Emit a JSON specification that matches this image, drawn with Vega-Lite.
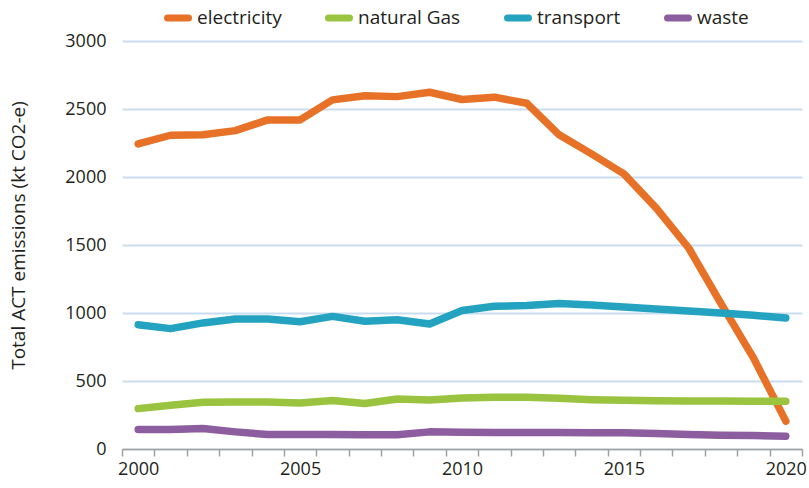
{
  "$schema": "https://vega.github.io/schema/vega-lite/v6.json",
  "autosize": {"type": "none"},
  "padding": {"left": 122, "top": 41, "right": 7, "bottom": 39},
  "width": 680,
  "height": 408,
  "background": "white",
  "config": {"view": {"stroke": null}},
  "data": {"values": [
    {"year": 2000, "series": "electricity", "value": 2243},
    {"year": 2001, "series": "electricity", "value": 2307},
    {"year": 2002, "series": "electricity", "value": 2310},
    {"year": 2003, "series": "electricity", "value": 2341},
    {"year": 2004, "series": "electricity", "value": 2420},
    {"year": 2005, "series": "electricity", "value": 2420},
    {"year": 2006, "series": "electricity", "value": 2567},
    {"year": 2007, "series": "electricity", "value": 2598},
    {"year": 2008, "series": "electricity", "value": 2591},
    {"year": 2009, "series": "electricity", "value": 2623},
    {"year": 2010, "series": "electricity", "value": 2570},
    {"year": 2011, "series": "electricity", "value": 2587},
    {"year": 2012, "series": "electricity", "value": 2542},
    {"year": 2013, "series": "electricity", "value": 2310},
    {"year": 2014, "series": "electricity", "value": 2170},
    {"year": 2015, "series": "electricity", "value": 2023},
    {"year": 2016, "series": "electricity", "value": 1771},
    {"year": 2017, "series": "electricity", "value": 1478},
    {"year": 2018, "series": "electricity", "value": 1069},
    {"year": 2019, "series": "electricity", "value": 670},
    {"year": 2020, "series": "electricity", "value": 205},
    {"year": 2000, "series": "natural Gas", "value": 297},
    {"year": 2001, "series": "natural Gas", "value": 322},
    {"year": 2002, "series": "natural Gas", "value": 344},
    {"year": 2003, "series": "natural Gas", "value": 346},
    {"year": 2004, "series": "natural Gas", "value": 346},
    {"year": 2005, "series": "natural Gas", "value": 339},
    {"year": 2006, "series": "natural Gas", "value": 356},
    {"year": 2007, "series": "natural Gas", "value": 334},
    {"year": 2008, "series": "natural Gas", "value": 368},
    {"year": 2009, "series": "natural Gas", "value": 361},
    {"year": 2010, "series": "natural Gas", "value": 375},
    {"year": 2011, "series": "natural Gas", "value": 380},
    {"year": 2012, "series": "natural Gas", "value": 381},
    {"year": 2013, "series": "natural Gas", "value": 373},
    {"year": 2014, "series": "natural Gas", "value": 363},
    {"year": 2015, "series": "natural Gas", "value": 358},
    {"year": 2016, "series": "natural Gas", "value": 354},
    {"year": 2017, "series": "natural Gas", "value": 353},
    {"year": 2018, "series": "natural Gas", "value": 353},
    {"year": 2019, "series": "natural Gas", "value": 352},
    {"year": 2020, "series": "natural Gas", "value": 351},
    {"year": 2000, "series": "transport", "value": 914},
    {"year": 2001, "series": "transport", "value": 885},
    {"year": 2002, "series": "transport", "value": 927},
    {"year": 2003, "series": "transport", "value": 956},
    {"year": 2004, "series": "transport", "value": 956},
    {"year": 2005, "series": "transport", "value": 936},
    {"year": 2006, "series": "transport", "value": 975},
    {"year": 2007, "series": "transport", "value": 939},
    {"year": 2008, "series": "transport", "value": 951},
    {"year": 2009, "series": "transport", "value": 919},
    {"year": 2010, "series": "transport", "value": 1018},
    {"year": 2011, "series": "transport", "value": 1049},
    {"year": 2012, "series": "transport", "value": 1055},
    {"year": 2013, "series": "transport", "value": 1069},
    {"year": 2014, "series": "transport", "value": 1059},
    {"year": 2015, "series": "transport", "value": 1044},
    {"year": 2016, "series": "transport", "value": 1030},
    {"year": 2017, "series": "transport", "value": 1015},
    {"year": 2018, "series": "transport", "value": 1000},
    {"year": 2019, "series": "transport", "value": 983},
    {"year": 2020, "series": "transport", "value": 963},
    {"year": 2000, "series": "waste", "value": 143},
    {"year": 2001, "series": "waste", "value": 143},
    {"year": 2002, "series": "waste", "value": 150},
    {"year": 2003, "series": "waste", "value": 126},
    {"year": 2004, "series": "waste", "value": 106},
    {"year": 2005, "series": "waste", "value": 106},
    {"year": 2006, "series": "waste", "value": 106},
    {"year": 2007, "series": "waste", "value": 105},
    {"year": 2008, "series": "waste", "value": 105},
    {"year": 2009, "series": "waste", "value": 126},
    {"year": 2010, "series": "waste", "value": 124},
    {"year": 2011, "series": "waste", "value": 122},
    {"year": 2012, "series": "waste", "value": 122},
    {"year": 2013, "series": "waste", "value": 122},
    {"year": 2014, "series": "waste", "value": 120},
    {"year": 2015, "series": "waste", "value": 119},
    {"year": 2016, "series": "waste", "value": 114},
    {"year": 2017, "series": "waste", "value": 106},
    {"year": 2018, "series": "waste", "value": 102},
    {"year": 2019, "series": "waste", "value": 99},
    {"year": 2020, "series": "waste", "value": 94}
  ]},
  "mark": {"type": "line", "strokeWidth": 7.5, "strokeCap": "round", "strokeJoin": "round"},
  "encoding": {
    "x": {
      "field": "year",
      "type": "ordinal",
      "bandPosition": 0.5,
      "scale": {"type": "band", "paddingInner": 0, "paddingOuter": 0},
      "axis": {
        "title": null,
        "labelAngle": 0,
        "labelExpr": "datum.value % 5 === 0 ? datum.label : ''",
        "tickBand": "extent",
        "domainColor": "#a0a0a0",
        "domainWidth": 1.5,
        "tickColor": "#a0a0a0",
        "tickWidth": 1.5,
        "tickSize": 7,
        "labelPadding": 4,
        "labelFont": "Open Sans",
        "labelFontSize": 18,
        "labelColor": "#231f20",
        "labelOverlap": false,
        "grid": false
      }
    },
    "y": {
      "field": "value",
      "type": "quantitative",
      "scale": {"domain": [0, 3000], "nice": false},
      "axis": {
        "title": "Total ACT emissions (kt CO2-e)",
        "values": [0, 500, 1000, 1500, 2000, 2500, 3000],
        "format": "d",
        "domain": false,
        "ticks": false,
        "tickSize": 0,
        "labelPadding": 16,
        "labelFont": "Open Sans",
        "labelFontSize": 18,
        "labelColor": "#231f20",
        "gridColor": "#c9ddf0",
        "gridWidth": 2,
        "titleFont": "Open Sans",
        "titleFontSize": 19,
        "titleFontWeight": "normal",
        "titleColor": "#231f20",
        "titleX": -104,
        "titleY": 194,
        "titleAngle": -90,
        "titleBaseline": "middle",
        "titleAlign": "center"
      }
    },
    "color": {
      "field": "series",
      "type": "nominal",
      "scale": {
        "domain": ["electricity", "natural Gas", "transport", "waste"],
        "range": ["#e77127", "#9ac33f", "#24a3c0", "#8c5d9f"]
      },
      "legend": {
        "title": null,
        "orient": "none",
        "direction": "horizontal",
        "legendX": 42,
        "legendY": -37,
        "symbolType": "M-1,0L1,0",
        "symbolSize": 441,
        "symbolStrokeWidth": 7,
        "labelFont": "Open Sans",
        "labelFontSize": 19,
        "labelColor": "#231f20",
        "labelOffset": 5,
        "columnPadding": 32,
        "encode": {"symbols": {"update": {"strokeCap": {"value": "round"}}}}
      }
    }
  }
}
